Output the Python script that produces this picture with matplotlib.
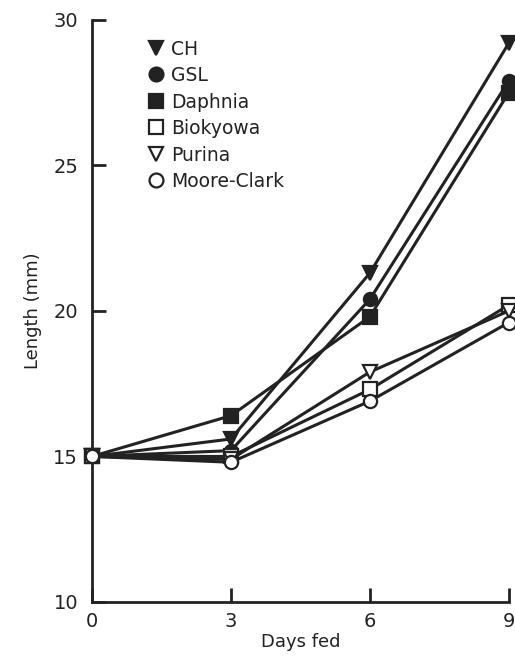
import matplotlib
matplotlib.use("Agg")
import matplotlib.pyplot as plt
from matplotlib.lines import Line2D

days = [0, 3, 6, 9]
diets = ['CH', 'GSL', 'Daphnia', 'Biokyowa', 'Purina', 'Moore-Clark']
ch = [15.0, 15.6, 21.3, 29.2]
gsl = [15.0, 15.2, 20.4, 27.9]
daphnia = [15.0, 16.4, 19.8, 27.5]
biokyowa = [15.0, 15.0, 17.3, 20.2]
purina = [15.0, 14.9, 17.9, 20.0]
moore_clark = [15.0, 14.8, 16.9, 19.6]

yticks = [10, 15, 20, 25, 30]
xticks = [0, 3, 6, 9]

series = [ch, gsl, daphnia, biokyowa, purina, moore_clark]
markers = ['v', 'o', 's', 's', 'v', 'o']
filled = [True, True, True, False, False, False]
ink = '#222222'

plt.rcParams['font.family'] = ['DejaVu Sans']
fig = plt.figure(figsize=(5.15, 6.59), dpi=100, facecolor='white')
ax = fig.add_axes([0.1786, 0.0865, 0.8094, 0.8835])

for vals, m, f in zip(series, markers, filled):
    ax.plot(days, vals, color=ink, lw=2.2, zorder=2)
    ax.plot(days, vals, linestyle='none', marker=m, ms=9.5,
            markerfacecolor=ink if f else 'white', markeredgecolor=ink,
            markeredgewidth=1.6, zorder=3, clip_on=False)

ax.set_xlim(0, 9)
ax.set_ylim(10, 30)
ax.set_xticks(xticks)
ax.set_yticks(yticks)
ax.set_xticklabels([str(t) for t in xticks])
ax.set_yticklabels([str(t) for t in yticks])
ax.tick_params(direction='in', length=10, width=2, color=ink, labelsize=14,
               labelcolor=ink)
ax.tick_params(axis='y', pad=10)
ax.tick_params(axis='x', pad=7)
for s in ['top', 'right']:
    ax.spines[s].set_visible(False)
for s in ['left', 'bottom']:
    ax.spines[s].set_linewidth(2)
    ax.spines[s].set_color(ink)

ax.set_xlabel('Days fed', fontsize=13, color=ink, labelpad=2)
ax.set_ylabel('Length (mm)', fontsize=13, color=ink, labelpad=8)

handles = [Line2D([], [], linestyle='none', marker=m, ms=10,
                  markerfacecolor=ink if f else 'white', markeredgecolor=ink,
                  markeredgewidth=1.6)
           for m, f in zip(markers, filled)]
ax.legend(handles, diets, loc='upper left', bbox_to_anchor=(0.1, 0.995),
          frameon=False, handlelength=0.6, handletextpad=0.5,
          labelspacing=0.4, fontsize=13.5, labelcolor=ink)

fig.savefig('out.png', dpi=100, facecolor='white')
